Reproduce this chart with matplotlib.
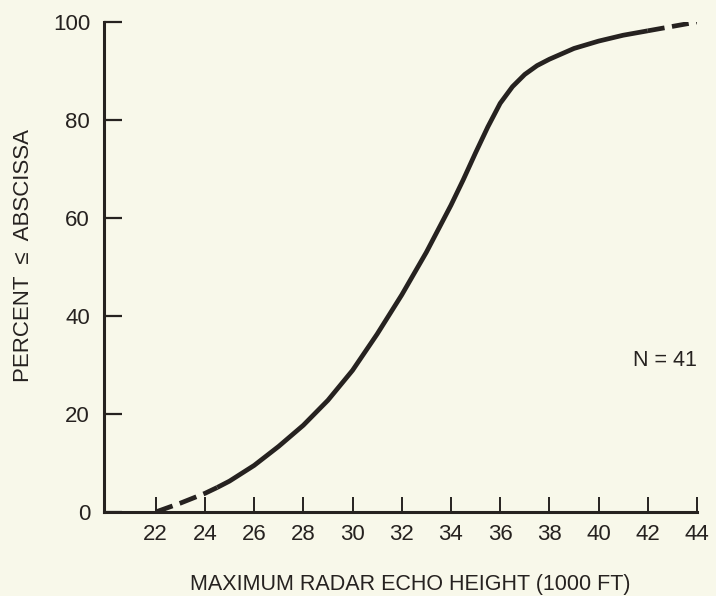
import matplotlib.pyplot as plt

plt.rcParams['font.family'] = ['Liberation Sans', 'DejaVu Sans']

# cumulative distribution of maximum echo heights
height_kft = [22, 23, 24, 24.5, 25, 26, 27, 28, 29, 30, 31, 32, 33, 34,
              34.5, 35, 35.5, 36, 36.5, 37, 37.5, 38, 39, 40, 41, 42, 43, 44]
percent_le = [0, 1.8, 3.8, 5.0, 6.3, 9.5, 13.4, 17.7, 22.8, 28.9, 36.3, 44.3, 53.0, 62.6,
              67.8, 73.3, 78.6, 83.4, 86.8, 89.3, 91.1, 92.4, 94.6, 96.1, 97.3, 98.2, 99.1, 100]

x_ticks = [22, 24, 26, 28, 30, 32, 34, 36, 38, 40, 42, 44]
y_ticks = [0, 20, 40, 60, 80, 100]

bg = '#f8f8ea'
ink = '#262220'

fig = plt.figure(figsize=(7.16, 5.96), dpi=100, facecolor=bg)
ax = fig.add_axes([104 / 716, 1 - 512 / 596, (697 - 104) / 716, (512 - 22) / 596])
ax.set_facecolor(bg)

i_lo = height_kft.index(24.5)
i_hi = height_kft.index(42)
lw = 3.4
# extrapolated ends are dashed, the observed part is solid
ax.plot(height_kft[:i_lo + 1], percent_le[:i_lo + 1], color=ink, lw=lw,
        dashes=(3.8, 1.6), solid_capstyle='butt', dash_capstyle='butt')
ax.plot(height_kft[i_lo:i_hi + 1], percent_le[i_lo:i_hi + 1], color=ink, lw=lw,
        solid_capstyle='butt', solid_joinstyle='round')
ax.plot(height_kft[i_hi:], percent_le[i_hi:], color=ink, lw=lw,
        dashes=(3.6, 1.6), dash_capstyle='butt')

ax.set_xlim(19.9, 44)
ax.set_ylim(0, 100)
ax.set_xticks(x_ticks)
ax.set_yticks(y_ticks)

for side in ['top', 'right']:
    ax.spines[side].set_visible(False)
for side in ['left', 'bottom']:
    ax.spines[side].set_linewidth(2.2)
    ax.spines[side].set_color(ink)

ax.tick_params(axis='x', direction='in', length=11, width=1.4, color=ink,
               pad=9, labelsize=16, labelcolor=ink)
ax.tick_params(axis='y', direction='in', length=13, width=1.6, color=ink,
               pad=10, labelsize=16, labelcolor=ink)

ax.set_xlabel('MAXIMUM RADAR ECHO HEIGHT (1000 FT)', fontsize=15.5, color=ink)
ax.set_ylabel('PERCENT  \u2264  ABSCISSA', fontsize=16, color=ink)
ax.xaxis.set_label_coords(0.517, -0.127)
ax.yaxis.set_label_coords(-0.118, 0.523)

ax.text(42.7, 31, 'N = 41', fontsize=15.5, color=ink, ha='center', va='center')

plt.savefig('out.png', dpi=100, facecolor=bg)
